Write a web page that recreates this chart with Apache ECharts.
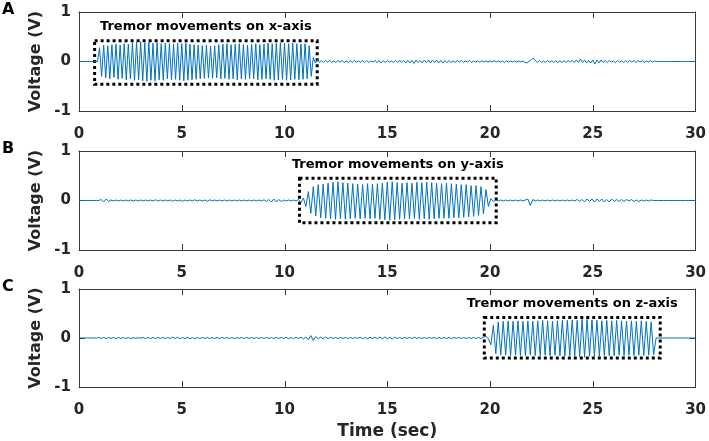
<!DOCTYPE html>
<html>
<head>
<meta charset="utf-8">
<title>Tremor movements</title>
<script src="https://cdn.jsdelivr.net/npm/echarts@6/dist/echarts.min.js"></script>
<style>
  html, body { margin: 0; padding: 0; background: #fff; }
  #chart { width: 709px; height: 441px; }
</style>
</head>
<body>
<div id="chart"></div>
<script>
// 坐标轴范围与刻度
const timeRange = [0, 30];
const timeTick = 5;
const voltRange = [-1, 1];
const voltTick = 1;

const panelLetters = ['A', 'B', 'C'];
const boxTitles = ['Tremor movements on x-axis', 'Tremor movements on y-axis', 'Tremor movements on z-axis'];
// 虚线框范围: [t0, t1, vMin, vMax]
const boxRanges = [
  [0.76, 11.59, -0.46, 0.42],
  [10.73, 20.30, -0.45, 0.45],
  [19.72, 28.28, -0.41, 0.42]
];

// 采样间隔 (sec)
const stepA = 0.1;
const stepB = 0.12;
const stepC = 0.12;

// A: x 轴电压, 每行 10 个采样点
const voltA = [
  0, 0, 0, 0, 0, 0, 0, 0, 0, 0,
  0.28, -0.30, 0.33, -0.33, 0.32, -0.35, 0.34, -0.32, 0.35, -0.36,
  0.33, -0.34, 0.36, -0.37, 0.35, -0.35, 0.38, -0.38, 0.39, -0.37,
  0.40, -0.39, 0.38, -0.40, 0.39, -0.38, 0.37, -0.39, 0.38, -0.37,
  0.36, -0.38, 0.37, -0.35, 0.36, -0.37, 0.35, -0.36, 0.37, -0.38,
  0.36, -0.39, 0.37, -0.38, 0.35, -0.37, 0.34, -0.36, 0.33, -0.35,
  0.32, -0.34, 0.33, -0.33, 0.31, -0.34, 0.32, -0.33, 0.34, -0.35,
  0.35, -0.34, 0.36, -0.36, 0.34, -0.35, 0.35, -0.37, 0.36, -0.35,
  0.34, -0.36, 0.33, -0.34, 0.35, -0.35, 0.36, -0.37, 0.34, -0.36,
  0.35, -0.35, 0.37, -0.36, 0.36, -0.38, 0.37, -0.37, 0.38, -0.36,
  0.37, -0.38, 0.36, -0.37, 0.37, -0.36, 0.36, -0.37, 0.35, -0.36,
  0.36, -0.35, 0.32, -0.30, 0.08, -0.03, 0.04, -0.02, 0.02, -0.02,
  0.02, -0.01, 0.02, -0.02, 0.01, -0.02, 0.02, -0.01, 0.02, -0.02,
  0.01, -0.02, 0.02, -0.02, 0.02, -0.01, 0.01, -0.02, 0.02, -0.02,
  0.02, -0.02, 0.01, -0.01, 0.02, -0.02, 0.02, -0.03, 0.02, -0.02,
  0.02, -0.01, 0.01, -0.02, 0.02, -0.02, 0.03, -0.02, 0.02, -0.03,
  0.02, -0.03, 0.02, -0.04, 0.03, -0.02, 0.02, -0.03, 0.03, -0.02,
  0.03, -0.03, 0.03, -0.02, 0.03, -0.03, 0.02, -0.03, 0.02, -0.02,
  0.02, -0.02, 0.01, -0.02, 0.02, -0.01, 0.02, -0.02, 0.01, -0.01,
  0.02, -0.02, 0.01, -0.01, 0.01, -0.02, 0.02, -0.01, 0.01, -0.01,
  0.01, -0.01, 0.02, -0.01, 0.01, -0.01, 0.01, -0.02, 0.01, -0.01,
  0.01, -0.01, 0.01, -0.01, 0.01, -0.01, 0.01, -0.02, -0.03, 0.01,
  0.03, 0.07, 0.02, -0.02, 0.02, -0.02, 0.01, -0.02, 0.02, -0.01,
  0.01, -0.02, 0.02, -0.02, 0.01, -0.02, 0.02, -0.02, 0.02, -0.01,
  0.02, -0.02, 0.03, -0.02, 0.05, -0.02, 0.03, -0.03, 0.02, -0.03,
  0.03, -0.05, 0.03, -0.03, 0.03, -0.02, 0.02, -0.02, 0.02, -0.01,
  0.01, -0.02, 0.02, -0.01, 0.01, -0.02, 0.02, -0.02, 0.02, -0.01,
  0.02, -0.02, 0.02, -0.01, 0.02, -0.02, 0.01, -0.01, 0.02, -0.01,
  0.01, 0, 0, 0, 0, 0, 0, 0, 0, 0,
  0, 0, 0, 0, 0, 0, 0, 0, 0, 0,
  0
];

// B: y 轴电压
const voltB = [
  0, 0, 0, 0, 0, 0, 0, 0, 0, 0.02,
  -0.03, 0.03, -0.02, 0.01, -0.01, 0.01, -0.01, 0.01, -0.01, 0.01,
  -0.01, 0.01, -0.01, 0.01, -0.01, 0.01, -0.01, 0.01, -0.01, 0.01,
  -0.01, 0.015, -0.01, 0.01, -0.01, 0.01, -0.01, 0.01, -0.015, 0.01,
  -0.01, 0.01, -0.015, 0.01, -0.01, 0.01, -0.01, 0.015, -0.01, 0.01,
  -0.01, 0.01, -0.015, 0.015, -0.01, 0.01, -0.01, 0.01, -0.01, 0.01,
  -0.01, 0.01, -0.01, 0.01, -0.01, 0.01, -0.01, 0.01, -0.01, 0.01,
  -0.01, 0.01, -0.01, 0.01, -0.01, 0.015, -0.02, 0.02, -0.03, 0.03,
  -0.03, 0.02, -0.02, 0.01, -0.01, 0.01, -0.01, 0.01, -0.01, 0.02,
  -0.04, 0.05, -0.12, 0.18, -0.26, 0.28, -0.31, 0.32, -0.35, 0.33,
  -0.36, 0.35, -0.37, 0.37, -0.38, 0.38, -0.37, 0.36, -0.38, 0.35,
  -0.37, 0.34, -0.36, 0.33, -0.37, 0.32, -0.36, 0.34, -0.37, 0.33,
  -0.36, 0.34, -0.38, 0.35, -0.39, 0.37, -0.40, 0.38, -0.39, 0.36,
  -0.38, 0.35, -0.37, 0.36, -0.37, 0.35, -0.36, 0.37, -0.38, 0.36,
  -0.37, 0.37, -0.38, 0.36, -0.37, 0.35, -0.36, 0.34, -0.36, 0.35,
  -0.36, 0.34, -0.35, 0.33, -0.35, 0.32, -0.34, 0.32, -0.33, 0.30,
  -0.32, 0.30, -0.30, 0.28, -0.27, 0.22, -0.12, 0.04, -0.02, 0.01,
  -0.01, 0.01, -0.01, 0.01, -0.01, 0.01, -0.01, 0.01, -0.01, 0.01,
  -0.01, 0.01, 0.03, -0.10, 0.02, -0.01, 0.01, -0.01, 0.01, -0.01,
  0.01, -0.01, 0.01, -0.01, 0.01, -0.01, 0.01, -0.01, 0.01, -0.01,
  0.01, -0.01, 0.02, -0.02, 0.02, -0.03, 0.03, -0.02, 0.03, -0.03,
  0.03, -0.02, 0.03, -0.03, 0.02, -0.03, 0.03, -0.02, 0.02, -0.02,
  0.02, -0.02, 0.02, -0.01, 0.02, -0.02, 0.01, -0.02, 0.01, -0.01,
  0.01, -0.01, 0.01, 0, 0, 0, 0, 0, 0, 0,
  0, 0, 0, 0, 0, 0, 0, 0, 0, 0,
  0
];

// C: z 轴电压
const voltC = [
  0, 0, 0, 0, 0, 0, 0, 0, 0.01, -0.01,
  0.01, -0.01, 0.01, -0.01, 0.01, -0.01, 0.01, -0.01, 0.01, -0.01,
  0.01, -0.01, 0.005, -0.005, 0.005, -0.005, 0.01, -0.01, 0.01, -0.01,
  0.01, -0.01, 0.01, -0.01, 0.01, -0.01, 0.01, -0.01, 0.015, -0.01,
  0.015, -0.015, 0.01, -0.01, 0.015, -0.015, 0.01, -0.015, 0.01, -0.01,
  0.01, -0.01, 0.01, -0.01, 0.01, -0.01, 0.01, -0.01, 0.01, -0.01,
  0.01, -0.01, 0.01, -0.01, 0.005, -0.005, 0.01, -0.01, 0.01, -0.01,
  0.01, -0.01, 0.01, -0.01, 0.01, -0.01, 0.01, -0.01, 0.01, -0.01,
  0.01, -0.01, 0.01, -0.01, 0.015, -0.015, 0.01, -0.015, 0.015, -0.01,
  0.015, -0.02, 0.02, -0.03, 0.05, -0.05, 0.03, -0.02, 0.02, -0.02,
  0.02, -0.015, 0.015, -0.01, 0.01, -0.01, 0.01, -0.01, 0.01, -0.01,
  0.01, -0.01, 0.01, -0.01, 0.015, -0.015, 0.01, -0.015, 0.015, -0.01,
  0.015, -0.015, 0.02, -0.015, 0.02, -0.015, 0.015, -0.02, 0.015, -0.01,
  0.01, -0.01, 0.01, -0.01, 0.01, -0.01, 0.015, -0.01, 0.01, -0.01,
  0.01, -0.01, 0.01, -0.01, 0.01, -0.01, 0.01, -0.01, 0.01, -0.01,
  0.01, -0.01, 0.01, -0.01, 0.01, -0.01, 0.01, -0.01, 0.01, -0.01,
  0.01, -0.01, 0.01, -0.01, 0.01, 0.04, -0.02, -0.14, 0.26, -0.32,
  0.33, -0.35, 0.34, -0.35, 0.35, -0.36, 0.34, -0.35, 0.35, -0.36,
  0.34, -0.36, 0.35, -0.35, 0.34, -0.36, 0.35, -0.36, 0.36, -0.35,
  0.35, -0.36, 0.34, -0.35, 0.35, -0.36, 0.36, -0.37, 0.36, -0.36,
  0.37, -0.37, 0.36, -0.38, 0.38, -0.39, 0.38, -0.37, 0.37, -0.38,
  0.36, -0.37, 0.35, -0.36, 0.36, -0.36, 0.35, -0.36, 0.36, -0.35,
  0.35, -0.36, 0.34, -0.35, 0.35, -0.36, 0.34, -0.35, 0.35, -0.36,
  0.34, -0.35, 0.33, -0.34, 0, 0, 0, 0, 0, 0,
  0, 0, 0, 0, 0, 0, 0, 0, 0, 0,
  0
];

const panels = [
  {volt: voltA, step: stepA},
  {volt: voltB, step: stepB},
  {volt: voltC, step: stepC}
];

const font = '"DejaVu Sans", sans-serif';
const axisColor = '#262626';
const frameColor = '#3a3a3a';
const gridTops = [12, 151, 289];
const gridHeight = 99;
const tickLen = 6;

const chart = echarts.init(document.getElementById('chart'));

const grids = [];
const xAxes = [];
const yAxes = [];
const series = [];
const graphics = [];

const yTick = () => ({show: true, inside: true, length: tickLen, lineStyle: {color: frameColor}});
const frameLine = () => ({show: true, onZero: false, lineStyle: {color: frameColor}});
const labelStyle = (margin) => ({margin: margin, fontSize: 15, fontWeight: 'bold', fontFamily: font, color: axisColor});

panels.forEach((p, i) => {
  grids.push({left: 79, right: 10, top: gridTops[i], height: gridHeight});
  // 下方 x 轴
  xAxes.push({
    gridIndex: i, type: 'value', position: 'bottom',
    min: timeRange[0], max: timeRange[1], interval: timeTick,
    axisLine: frameLine(), splitLine: {show: false},
    axisTick: {show: false},
    axisLabel: labelStyle(16),
    name: i === 2 ? 'Time (sec)' : '',
    nameLocation: 'middle', nameGap: 36,
    nameTextStyle: {fontSize: 17, fontWeight: 'bold', fontFamily: font, color: axisColor}
  });
  // 上方 x 轴, 只画边框
  xAxes.push({
    gridIndex: i, type: 'value', position: 'top',
    min: timeRange[0], max: timeRange[1], interval: timeTick,
    axisLine: frameLine(), splitLine: {show: false},
    axisTick: {show: false}, axisLabel: {show: false}
  });
  yAxes.push({
    gridIndex: i, type: 'value', position: 'left',
    min: voltRange[0], max: voltRange[1], interval: voltTick,
    axisLine: frameLine(), splitLine: {show: false},
    axisTick: yTick(),
    axisLabel: labelStyle(8),
    name: 'Voltage (V)', nameLocation: 'middle', nameGap: 31,
    nameTextStyle: {fontSize: 16, fontWeight: 'bold', fontFamily: font, color: axisColor}
  });
  yAxes.push({
    gridIndex: i, type: 'value', position: 'right',
    min: voltRange[0], max: voltRange[1], interval: voltTick,
    axisLine: frameLine(), splitLine: {show: false},
    axisTick: yTick(), axisLabel: {show: false}
  });

  const box = boxRanges[i];
  series.push({
    type: 'line',
    xAxisIndex: 2 * i,
    yAxisIndex: 2 * i,
    data: p.volt.map((v, k) => [+(k * p.step).toFixed(3), v]),
    showSymbol: false,
    lineStyle: {width: 1, color: '#0072BD'},
    markArea: {
      silent: true,
      itemStyle: {color: 'rgba(0,0,0,0)', borderColor: '#000', borderWidth: 3, borderType: [3, 3]},
      label: {
        show: true, position: 'top', distance: 6,
        formatter: boxTitles[i],
        fontSize: 13, fontWeight: 'bold', fontFamily: font, color: '#000'
      },
      data: [[{xAxis: box[0], yAxis: box[3]}, {xAxis: box[1], yAxis: box[2]}]]
    }
  });

  // 面板字母
  graphics.push({
    type: 'text', x: 2, y: [9.5, 148.5, 286.5][i],
    style: {text: panelLetters[i], font: 'bold 16px ' + font, fill: '#000', verticalAlign: 'middle'}
  });
});

chart.setOption({
  animation: false,
  backgroundColor: '#fff',
  grid: grids,
  xAxis: xAxes,
  yAxis: yAxes,
  series: series
});

// x 轴内侧刻度 (上下两边): 用坐标轴换算出像素位置后画短线
for (let i = 0; i < panels.length; i++) {
  for (let t = timeRange[0] + timeTick; t < timeRange[1]; t += timeTick) {
    const bottom = chart.convertToPixel({gridIndex: i}, [t, voltRange[0]]);
    const top = chart.convertToPixel({gridIndex: i}, [t, voltRange[1]]);
    const x = Math.round(bottom[0]) + 0.5;
    graphics.push({
      type: 'line', silent: true, z: 10,
      shape: {x1: x, y1: bottom[1], x2: x, y2: bottom[1] - tickLen},
      style: {stroke: frameColor, lineWidth: 1}
    });
    graphics.push({
      type: 'line', silent: true, z: 10,
      shape: {x1: x, y1: top[1], x2: x, y2: top[1] + tickLen},
      style: {stroke: frameColor, lineWidth: 1}
    });
  }
}

chart.setOption({graphic: graphics});
</script>
</body>
</html>
